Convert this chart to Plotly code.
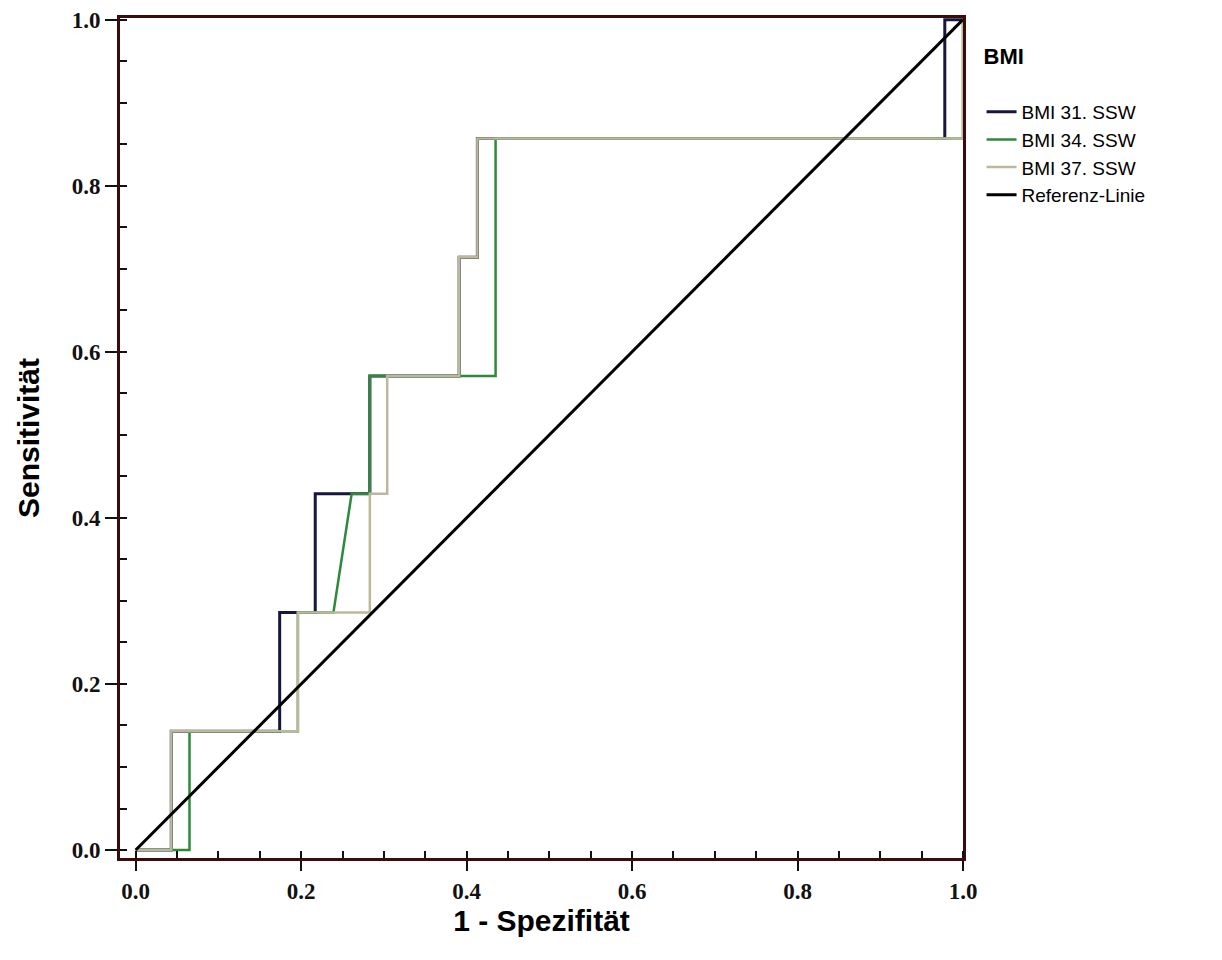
import plotly.graph_objects as go

# ROC curves (1 - Spezifität, Sensitivität)
bmi31_x = [0.0, 0.043, 0.043, 0.174, 0.174, 0.217, 0.217, 0.283, 0.283, 0.391, 0.391, 0.413, 0.413, 0.978, 0.978, 1.0]
bmi31_y = [0.0, 0.0, 0.143, 0.143, 0.286, 0.286, 0.429, 0.429, 0.571, 0.571, 0.714, 0.714, 0.857, 0.857, 1.0, 1.0]

bmi34_x = [0.0, 0.065, 0.065, 0.196, 0.196, 0.239, 0.261, 0.283, 0.283, 0.435, 0.435, 1.0, 1.0]
bmi34_y = [0.0, 0.0, 0.143, 0.143, 0.286, 0.286, 0.429, 0.429, 0.571, 0.571, 0.857, 0.857, 1.0]

bmi37_x = [0.0, 0.043, 0.043, 0.196, 0.196, 0.283, 0.283, 0.304, 0.304, 0.391, 0.391, 0.413, 0.413, 1.0, 1.0]
bmi37_y = [0.0, 0.0, 0.143, 0.143, 0.286, 0.286, 0.429, 0.429, 0.571, 0.571, 0.714, 0.714, 0.857, 0.857, 1.0]

ref_x = [0.0, 1.0]
ref_y = [0.0, 1.0]

series_names = ["BMI 31. SSW", "BMI 34. SSW", "BMI 37. SSW", "Referenz-Linie"]
tick_vals = [0.0, 0.2, 0.4, 0.6, 0.8, 1.0]
tick_text = ["0.0", "0.2", "0.4", "0.6", "0.8", "1.0"]

frame_color = "#3a0c0c"

fig = go.Figure()
fig.add_trace(go.Scatter(x=bmi31_x, y=bmi31_y, mode="lines", name=series_names[0],
                         line=dict(color="#16163e", width=3)))
fig.add_trace(go.Scatter(x=bmi34_x, y=bmi34_y, mode="lines", name=series_names[1],
                         line=dict(color="#2c8a3a", width=2.5)))
fig.add_trace(go.Scatter(x=bmi37_x, y=bmi37_y, mode="lines", name=series_names[2],
                         line=dict(color="#bcb89c", width=2.5)))
fig.add_trace(go.Scatter(x=ref_x, y=ref_y, mode="lines", name=series_names[3],
                         line=dict(color="#000000", width=3)))

axis_common = dict(
    showgrid=False, zeroline=False,
    showline=True, linecolor=frame_color, linewidth=3, mirror=True,
    ticks="outside", tickwidth=2, tickcolor="#111111",
    tickvals=tick_vals, ticktext=tick_text, ticklabeloverflow="allow",
    tickfont=dict(family="Liberation Serif", size=23, color="#111111", weight="bold"),
    minor=dict(ticks="inside", dtick=0.05, ticklen=7, tickwidth=1.5, tickcolor="#111111"),
)

fig.update_layout(
    width=1214, height=952,
    margin=dict(l=112, r=259, t=10, b=102),
    plot_bgcolor="white", paper_bgcolor="white",
    xaxis=dict(range=[-0.019, 1.0], automargin="bottom", ticklen=10, **axis_common,
               title=dict(text="1 - Spezifität", standoff=6,
                          font=dict(family="Liberation Sans", size=30, color="#000", weight="bold"))),
    yaxis=dict(range=[-0.0096, 1.002], automargin="left", ticklen=12, **axis_common,
               title=dict(text="Sensitivität", standoff=24,
                          font=dict(family="Liberation Sans", size=30, color="#000", weight="bold"))),
    legend=dict(
        title=dict(text="BMI<br> ", font=dict(family="Liberation Sans", size=22, color="#000", weight="bold")),
        font=dict(family="Liberation Sans", size=19, color="#000"),
        x=1.022, xanchor="left", y=0.979, yanchor="top",
        itemwidth=30, tracegroupgap=0, bgcolor="rgba(0,0,0,0)",
    ),
    showlegend=True,
)

fig.write_html("out.html")
